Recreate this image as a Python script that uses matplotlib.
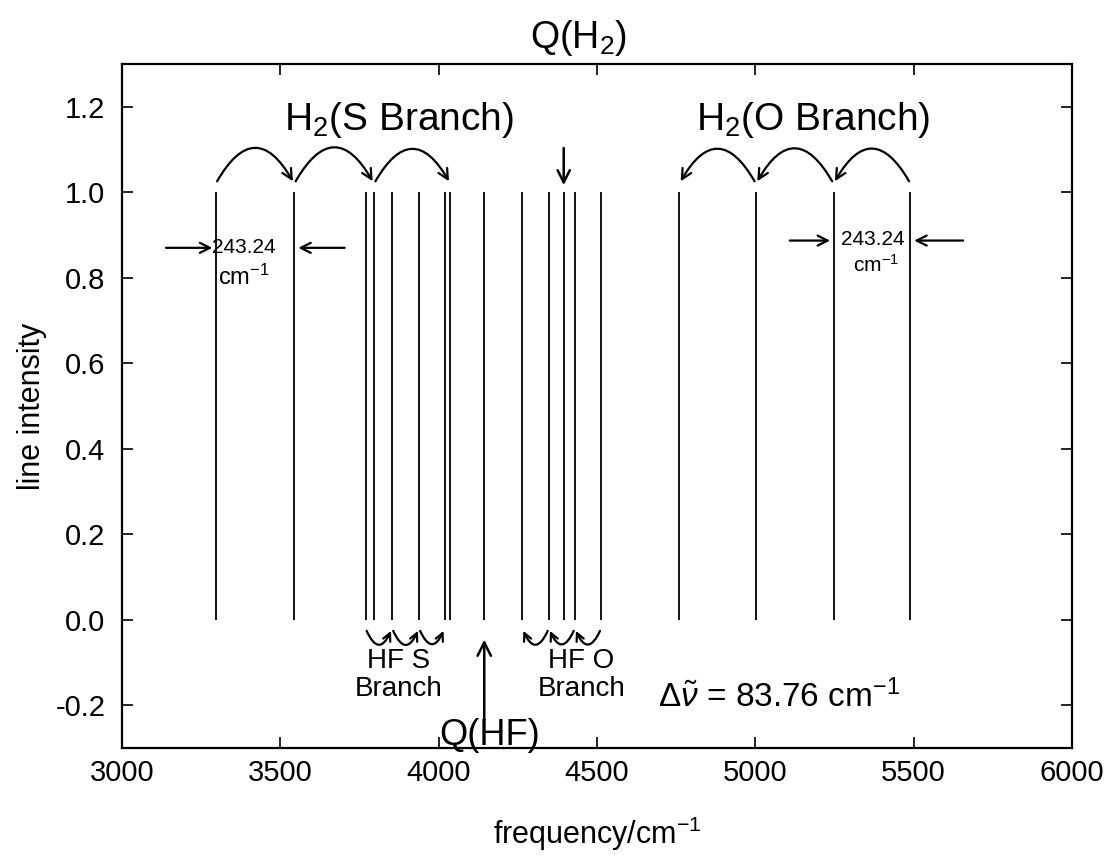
import matplotlib
matplotlib.use('Agg')
import matplotlib.pyplot as plt

# Line positions (cm^-1), all with unit intensity
h2_s_branch = [3296, 3544, 3796, 4037]
h2_q = [4395]
h2_o_branch = [4760, 5002, 5247, 5490]
hf_s_branch = [3769, 3853, 3938, 4019]
hf_q = [4144]
hf_o_branch = [4264, 4348, 4430, 4513]
intensity = 1.0

xticks = [3000, 3500, 4000, 4500, 5000, 5500, 6000]
yticks = [-0.2, 0.0, 0.2, 0.4, 0.6, 0.8, 1.0, 1.2]

plt.rcParams['font.family'] = ['Liberation Sans', 'DejaVu Sans']
plt.rcParams['mathtext.fontset'] = 'custom'
plt.rcParams['mathtext.rm'] = 'Liberation Sans'
plt.rcParams['mathtext.it'] = 'Liberation Sans:italic'

fig = plt.figure(figsize=(11.05, 8.58), dpi=100)
ax = fig.add_axes([0.1104, 0.1282, 0.8597, 0.7972])

lines = h2_s_branch + h2_q + h2_o_branch + hf_s_branch + hf_q + hf_o_branch
ax.vlines(lines, 0, intensity, colors='black', linewidth=1.3)

ax.set_xlim(3000, 6000)
ax.set_ylim(-0.3, 1.3)
ax.set_xticks(xticks)
ax.set_yticks(yticks)
ax.set_yticklabels(['%.1f' % v for v in yticks])
ax.tick_params(direction='in', length=8, width=1.2, top=True, right=True,
               labelsize=21)
ax.tick_params(axis='x', pad=8)
ax.tick_params(axis='y', pad=12)
for s in ax.spines.values():
    s.set_linewidth(1.6)
ax.set_xlabel('frequency/cm$^{-1}$', fontsize=22, labelpad=20)
ax.set_ylabel('line intensity', fontsize=22, labelpad=6)

# Handwritten-style annotations
hand = dict(color='black', fontsize=24, ha='center', va='center')
arc = dict(arrowstyle='->', color='black', lw=1.6, mutation_scale=18)

ax.text(4441, 1.36, 'Q(H$_2$)', clip_on=False, **dict(hand, fontsize=27))
ax.annotate('', xy=(4395, 1.01), xytext=(4395, 1.11),
            arrowprops=dict(arrowstyle='->', color='black', lw=1.8,
                            mutation_scale=22))
ax.text(3874, 1.17, 'H$_2$(S Branch)', **dict(hand, fontsize=28))
ax.text(5184, 1.17, 'H$_2$(O Branch)', **dict(hand, fontsize=28))

for a, b in zip(h2_s_branch[:-1], h2_s_branch[1:]):
    ax.annotate('', xy=(b, 1.02), xytext=(a, 1.02),
                arrowprops=dict(arc, connectionstyle='arc3,rad=-0.9'))
for a, b in zip(h2_o_branch[::-1][:-1], h2_o_branch[::-1][1:]):
    ax.annotate('', xy=(b, 1.02), xytext=(a, 1.02),
                arrowprops=dict(arc, connectionstyle='arc3,rad=0.9'))

for a, b in zip(hf_s_branch[:-1], hf_s_branch[1:]):
    ax.annotate('', xy=(b, -0.02), xytext=(a, -0.02),
                arrowprops=dict(arc, mutation_scale=14,
                                connectionstyle='arc3,rad=1.2'))
for a, b in zip(hf_o_branch[::-1][:-1], hf_o_branch[::-1][1:]):
    ax.annotate('', xy=(b, -0.02), xytext=(a, -0.02),
                arrowprops=dict(arc, mutation_scale=14,
                                connectionstyle='arc3,rad=-1.2'))

# 243.24 cm^-1 spacing marks
ax.text(3384, 0.87, '243.24', **dict(hand, fontsize=15))
ax.text(3384, 0.80, 'cm$^{-1}$', **dict(hand, fontsize=17))
ax.annotate('', xy=(3294, 0.87), xytext=(3130, 0.87), arrowprops=arc)
ax.annotate('', xy=(3548, 0.87), xytext=(3712, 0.87), arrowprops=arc)
ax.text(5370, 0.89, '243.24', **dict(hand, fontsize=15))
ax.text(5380, 0.83, 'cm$^{-1}$', **dict(hand, fontsize=15))
ax.annotate('', xy=(5245, 0.887), xytext=(5100, 0.887), arrowprops=arc)
ax.annotate('', xy=(5493, 0.887), xytext=(5665, 0.887), arrowprops=arc)

ax.text(3874, -0.13, 'HF S\nBranch', linespacing=1.1,
        **dict(hand, fontsize=20))
ax.text(4450, -0.13, 'HF O\nBranch', linespacing=1.1,
        **dict(hand, fontsize=20))
ax.annotate('', xy=(4144, -0.04), xytext=(4144, -0.24),
            arrowprops=dict(arrowstyle='->', color='black', lw=1.8,
                            mutation_scale=24))
ax.text(4160, -0.27, 'Q(HF)', **dict(hand, fontsize=26))
ax.text(5074, -0.18, r'$\Delta\tilde{\nu}$ = 83.76 cm$^{-1}$',
        **dict(hand, fontsize=24))

fig.savefig('out.png', dpi=100)
